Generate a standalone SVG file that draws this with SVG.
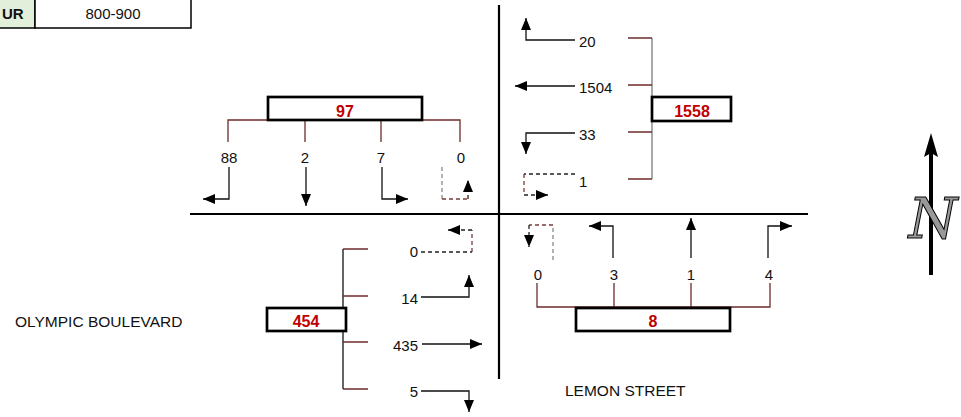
<svg xmlns="http://www.w3.org/2000/svg" width="961" height="417" viewBox="0 0 961 417">
<style>
text{font-family:"Liberation Sans",Arial,sans-serif;font-size:15px;fill:#111}
.tot{font-weight:bold;fill:#c00000;text-anchor:middle;font-size:16px}
.box{fill:#fff;stroke:#000;stroke-width:2.7}
.br{stroke:#6d2b2b;stroke-width:1.3;fill:none}
.brg{stroke:#7a7a7a;stroke-width:1.3;fill:none}
.ar{stroke:#111;stroke-width:1.3;fill:none}
.arm{stroke:#111;stroke-width:1.3;fill:none;marker-end:url(#ah)}
.dk{stroke:#222;stroke-width:1.3;fill:none;stroke-dasharray:4 3}
.dkm{stroke:#222;stroke-width:1.3;fill:none;stroke-dasharray:4 3;marker-end:url(#ah)}
.db{stroke:#7b3a3a;stroke-width:1.3;fill:none;stroke-dasharray:4 3}
.dg{stroke:#888;stroke-width:1.3;fill:none;stroke-dasharray:4 3}
.axis{stroke:#000;stroke-width:2.2}
.mid{text-anchor:middle}
.end{text-anchor:end}
.st{font-size:15.5px}
</style>
<defs>
<marker id="ah" markerUnits="userSpaceOnUse" markerWidth="12" markerHeight="10" refX="12" refY="5" orient="auto">
<path d="M0,0 L12,5 L0,10 z" fill="#000"/>
</marker>
</defs>
<rect width="961" height="417" fill="#fff"/>

<g id="header">
<rect x="-2" y="-2" width="37" height="30" fill="#e2efda" stroke="#000" stroke-width="1.5"/>
<rect x="35" y="-2" width="156" height="30" fill="#fff" stroke="#000" stroke-width="1.5"/>
<text x="2" y="19" font-weight="bold">UR</text>
<text x="113" y="19" class="mid">800-900</text>
</g>

<g id="axes">
<line class="axis" x1="190" y1="214" x2="808" y2="214"/>
<line class="axis" x1="499" y1="5" x2="499" y2="379"/>
</g>

<g id="north-approach">
<path class="br" d="M228,142 V120 H460 V142 M305,120 V142 M381,120 V142"/>
<rect class="box" x="268" y="97" width="154" height="23"/>
<text class="tot" x="345" y="117">97</text>
<text class="mid" x="229" y="163">88</text>
<text class="mid" x="305" y="163">2</text>
<text class="mid" x="381" y="163">7</text>
<text class="mid" x="461" y="163">0</text>
</g>

<g id="east-approach">
<path class="brg" d="M652,38 V179"/>
<path class="br" d="M628,38 H652 M628,85 H652 M628,132 H652 M628,179 H652"/>
<rect class="box" x="652" y="97" width="79" height="24"/>
<text class="tot" x="692" y="117">1558</text>
<text x="579" y="47">20</text>
<text x="579" y="93">1504</text>
<text x="579" y="140">33</text>
<text x="579" y="187">1</text>
</g>

<g id="west-approach">
<path class="ar" d="M343,249 V389" stroke="#333"/>
<path class="br" d="M343,249 H368 M343,296 H368 M343,342 H368 M343,389 H368"/>
<rect class="box" x="267" y="308" width="79" height="23"/>
<text class="tot" x="306" y="327">454</text>
<text class="end" x="418" y="257">0</text>
<text class="end" x="418" y="304">14</text>
<text class="end" x="418" y="351">435</text>
<text class="end" x="418" y="397">5</text>
</g>

<g id="south-approach">
<path class="br" d="M537,283 V307 H770 V283 M614,307 V283 M691,307 V283"/>
<rect class="box" x="576" y="308" width="154" height="23"/>
<text class="tot" x="653" y="327">8</text>
<text class="mid" x="538" y="280">0</text>
<text class="mid" x="614" y="280">3</text>
<text class="mid" x="691" y="280">1</text>
<text class="mid" x="769" y="280">4</text>
</g>

<g id="connectors">
<!-- north approach movements -->
<path class="arm" d="M229,167 V199 H203"/>
<path class="arm" d="M306,167 V206"/>
<path class="arm" d="M382,167 V199 H408"/>
<path class="dg" d="M442,167 V199"/>
<path class="db" d="M442,199 H468"/>
<path class="dkm" d="M468,199 V180"/>
<!-- east approach movements -->
<path class="arm" d="M575,40 H526 V18"/>
<path class="arm" d="M575,86 H515"/>
<path class="arm" d="M575,133 H526 V154"/>
<path class="dk" d="M575,174 H524"/>
<path class="db" d="M524,174 V195"/>
<path class="dkm" d="M524,195 H548"/>
<!-- west approach movements -->
<path class="dk" d="M421,252 H472"/>
<path class="db" d="M472,252 V230"/>
<path class="dkm" d="M472,230 H448"/>
<path class="arm" d="M421,297 H469 V275"/>
<path class="arm" d="M422,344 H482"/>
<path class="arm" d="M421,391 H469 V412"/>
<!-- south approach movements -->
<path class="dg" d="M553,260 V225"/>
<path class="db" d="M553,225 H529"/>
<path class="dkm" d="M529,225 V247"/>
<path class="arm" d="M613,258 V226 H589"/>
<path class="arm" d="M691,258 V218"/>
<path class="arm" d="M768,258 V226 H792"/>
</g>

<g id="streets">
<text class="st" x="15" y="327">OLYMPIC BOULEVARD</text>
<text class="st" x="565" y="396">LEMON STREET</text>
</g>

<g id="north-arrow">
<line x1="931" y1="275" x2="931" y2="152" stroke="#000" stroke-width="4"/>
<path d="M924,157 L931,133 L938,157 L931,153 z" fill="#000"/>
<text x="933" y="238" text-anchor="middle" style="font-family:'DejaVu Serif',serif;font-style:italic;font-size:56px;fill:#999;stroke:#000;stroke-width:1">N</text>
</g>
</svg>
